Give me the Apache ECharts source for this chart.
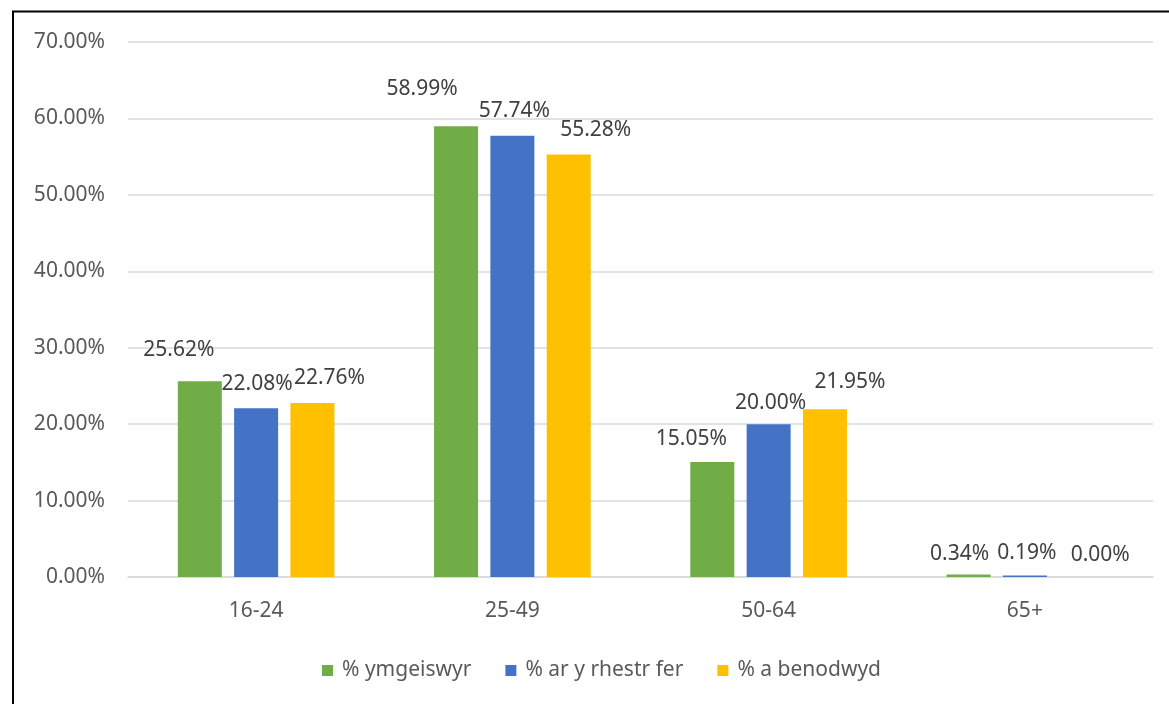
<!DOCTYPE html>
<html>
<head>
<meta charset="utf-8">
<style>
  html, body { margin: 0; padding: 0; background: #fff; }
  #main { width: 1169px; height: 704px; }
</style>
<script src="https://cdn.jsdelivr.net/npm/echarts@6/dist/echarts.min.js"></script>
</head>
<body>
<div id="main"></div>
<script>
// data (percent)
var categories = ['16-24', '25-49', '50-64', '65+'];
var seriesNames = ['% ymgeiswyr', '% ar y rhestr fer', '% a benodwyd'];
var ymgeiswyr = [25.62, 58.99, 15.05, 0.34];
var rhestrFer = [22.08, 57.74, 20.00, 0.19];
var benodwyd = [22.76, 55.28, 21.95, 0.00];

// label nudges [dx, dy] so labels sit where the original put them
var nudgeGreen = [[-21, -10], [-34, -16], [-21, -1], [-9, 1]];
var nudgeBlue = [[1, -3], [2, -3], [2, 0], [2, -1]];
var nudgeYellow = [[17, -4], [27, -3], [25, -6], [19, 0]];

var colors = ['#70ad47', '#4472c4', '#ffc000'];
var font = 'Noto Sans';

function makeSeries(name, values, nudges, color) {
    return {
        name: name,
        type: 'bar',
        barWidth: 44,
        barGap: '28%',
        itemStyle: { color: color },
        data: values.map(function (v, i) {
            return { value: v, label: { offset: nudges[i] } };
        }),
        label: {
            show: true,
            position: 'top',
            distance: 11,
            color: '#404040',
            fontFamily: font,
            fontSize: 21,
            formatter: function (p) { return p.value.toFixed(2) + '%'; }
        }
    };
}

var myChart = echarts.init(document.getElementById('main'));
myChart.setOption({
    animation: false,
    textStyle: { fontFamily: font },
    grid: { left: 128, right: 16, top: 42, bottom: 127 },
    legend: {
        data: seriesNames,
        left: 317,
        top: 655,
        icon: 'rect',
        itemWidth: 11,
        itemHeight: 11,
        itemGap: 34,
        textStyle: { color: '#595959', fontSize: 21, fontFamily: font, padding: [0, 0, 0, 4] }
    },
    xAxis: {
        type: 'category',
        data: categories,
        axisTick: { show: false },
        axisLine: { lineStyle: { color: '#d9d9d9', width: 1.5 } },
        axisLabel: { color: '#595959', fontSize: 21, margin: 24 }
    },
    yAxis: {
        type: 'value',
        min: 0,
        max: 70,
        interval: 10,
        axisLine: { show: false },
        axisTick: { show: false },
        splitLine: { lineStyle: { color: '#d9d9d9', width: 1.5 } },
        axisLabel: {
            color: '#595959',
            fontSize: 21,
            margin: 23,
            formatter: function (v) { return v.toFixed(2) + '%'; }
        }
    },
    graphic: [{
        type: 'rect',
        shape: { x: 13, y: 11.5, width: 1400, height: 1000 },
        style: { fill: 'none', stroke: '#000', lineWidth: 2 },
        silent: true
    }],
    series: [
        makeSeries(seriesNames[0], ymgeiswyr, nudgeGreen, colors[0]),
        makeSeries(seriesNames[1], rhestrFer, nudgeBlue, colors[1]),
        makeSeries(seriesNames[2], benodwyd, nudgeYellow, colors[2])
    ]
});
</script>
</body>
</html>
